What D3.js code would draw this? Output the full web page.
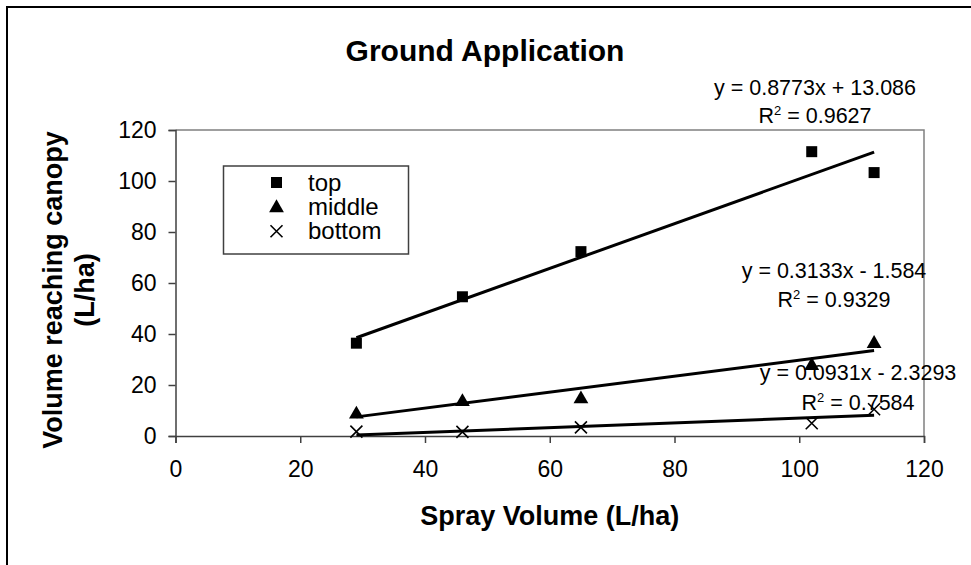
<!DOCTYPE html>
<html>
<head>
<meta charset="utf-8">
<script src="https://cdn.jsdelivr.net/npm/d3@7.9.0/dist/d3.min.js"></script>
<style>
  body { margin: 0; background: #fff; }
  text { font-family: Arial, "Liberation Sans", sans-serif; fill: #000; }
</style>
</head>
<body>
<svg id="chart" width="971" height="565"></svg>
<script>
// data
const sprayVolume = [29, 46, 65, 102, 112];
const topVals = [36.4, 54.6, 72.3, 111.5, 103.3];
const middleVals = [8.9, 13.8, 14.9, 28, 36.6];
const bottomVals = [1.7, 1.6, 3.4, 5, 10.5];

const seriesNames = ['top', 'middle', 'bottom'];
const slopes = [0.8773, 0.3133, 0.0931];
const intercepts = [13.086, -1.584, -2.3293];
const eqLabels = ['y = 0.8773x + 13.086', 'y = 0.3133x - 1.584', 'y = 0.0931x - 2.3293'];
const r2Labels = ['0.9627', '0.9329', '0.7584'];

const xTicks = [0, 20, 40, 60, 80, 100, 120];
const yTicks = [0, 20, 40, 60, 80, 100, 120];

const svg = d3.select('#chart');

// chart area border (runs off right/bottom edge)
svg.append('rect')
  .attr('x', 7).attr('y', 7).attr('width', 970).attr('height', 580)
  .attr('fill', 'none').attr('stroke', '#000').attr('stroke-width', 2);

const plot = { left: 175.5, top: 130, right: 924, bottom: 436 };

const x = d3.scaleLinear().domain([0, 120]).range([plot.left, plot.right]);
const y = d3.scaleLinear().domain([0, 120]).range([plot.bottom, plot.top]);

// plot area border (top/right grey)
svg.append('path')
  .attr('d', `M${plot.left},${plot.top}H${plot.right}V${plot.bottom}`)
  .attr('fill', 'none').attr('stroke', '#808080').attr('stroke-width', 1.5);

// axes
const xAxis = svg.append('g')
  .attr('transform', `translate(0,${plot.bottom})`)
  .call(d3.axisBottom(x).tickValues(xTicks).tickSizeOuter(0).tickSize(7).tickPadding(18));
const yAxis = svg.append('g')
  .attr('transform', `translate(${plot.left},0)`)
  .call(d3.axisLeft(y).tickValues(yTicks).tickSizeOuter(0).tickSize(7).tickPadding(12));

[xAxis, yAxis].forEach(a => {
  a.select('.domain').attr('stroke', '#404040').attr('stroke-width', 1.5);
  a.selectAll('.tick line').attr('stroke', '#404040').attr('stroke-width', 1.5);
  a.selectAll('.tick text')
    .attr('font-family', 'Arial, "Liberation Sans", sans-serif')
    .attr('font-size', 23).attr('fill', '#000');
});
xAxis.selectAll('.tick text').attr('dy', '0.71em');

// titles
svg.append('text')
  .attr('x', 485).attr('y', 61)
  .attr('text-anchor', 'middle')
  .attr('font-weight', 'bold').attr('font-size', 30)
  .text('Ground Application');

svg.append('text')
  .attr('x', (plot.left + plot.right) / 2).attr('y', 525)
  .attr('text-anchor', 'middle')
  .attr('font-weight', 'bold').attr('font-size', 27)
  .text('Spray Volume (L/ha)');

const yTitle = svg.append('text')
  .attr('transform', 'translate(62,290) rotate(-90)')
  .attr('text-anchor', 'middle')
  .attr('font-weight', 'bold').attr('font-size', 27);
yTitle.append('tspan').attr('x', 0).attr('y', 0).text('Volume reaching canopy');
yTitle.append('tspan').attr('x', 0).attr('y', 32).text('(L/ha)');

// symbols
const sym = [
  d3.symbol().type(d3.symbolSquare).size(121),
  d3.symbol().type(d3.symbolTriangle).size(95),
  null
];
function drawMarker(g, i, cx, cy) {
  if (i < 2) {
    g.append('path')
      .attr('d', sym[i]())
      .attr('transform', `translate(${cx},${cy + (i === 1 ? 1 : 0)})`)
      .attr('fill', '#000');
  } else {
    const s = 6;
    g.append('path')
      .attr('d', `M${cx - s},${cy - s}L${cx + s},${cy + s}M${cx - s},${cy + s}L${cx + s},${cy - s}`)
      .attr('stroke', '#000').attr('stroke-width', 1.6).attr('fill', 'none');
  }
}

const seriesVals = [topVals, middleVals, bottomVals];
const marks = svg.append('g');
seriesVals.forEach((vals, i) => {
  vals.forEach((v, j) => drawMarker(marks, i, x(sprayVolume[j]), y(v)));
});

// trend lines
const xMin = d3.min(sprayVolume), xMax = d3.max(sprayVolume);
const line = d3.line().x(d => x(d[0])).y(d => y(d[1]));
slopes.forEach((m, i) => {
  const pts = [xMin, xMax].map(v => [v, m * v + intercepts[i]]);
  svg.append('path')
    .attr('d', line(pts))
    .attr('stroke', '#000').attr('stroke-width', 3).attr('fill', 'none');
});

// trend labels
const labelPos = [
  { cx: 815, y1: 95, y2: 123 },
  { cx: 834, y1: 278, y2: 307 },
  { cx: 858, y1: 380, y2: 410 }
];
eqLabels.forEach((t, i) => {
  const p = labelPos[i];
  svg.append('text')
    .attr('x', p.cx).attr('y', p.y1)
    .attr('text-anchor', 'middle').attr('font-size', 21.5)
    .text(t);
  const r = svg.append('text')
    .attr('x', p.cx).attr('y', p.y2)
    .attr('text-anchor', 'middle').attr('font-size', 21.5);
  r.append('tspan').text('R');
  r.append('tspan').attr('font-size', 13).attr('dy', -8).text('2');
  r.append('tspan').attr('dy', 8).text(' = ' + r2Labels[i]);
});

// legend
const lg = svg.append('g');
lg.append('rect')
  .attr('x', 223.5).attr('y', 166).attr('width', 185).attr('height', 88)
  .attr('fill', '#fff').attr('stroke', '#404040').attr('stroke-width', 1.5);
seriesNames.forEach((n, i) => {
  const by = 190.5 + i * 24.4;
  drawMarker(lg, i, 276.5, by - 8);
  lg.append('text')
    .attr('x', 308).attr('y', by)
    .attr('font-size', 24)
    .text(n);
});
</script>
</body>
</html>
